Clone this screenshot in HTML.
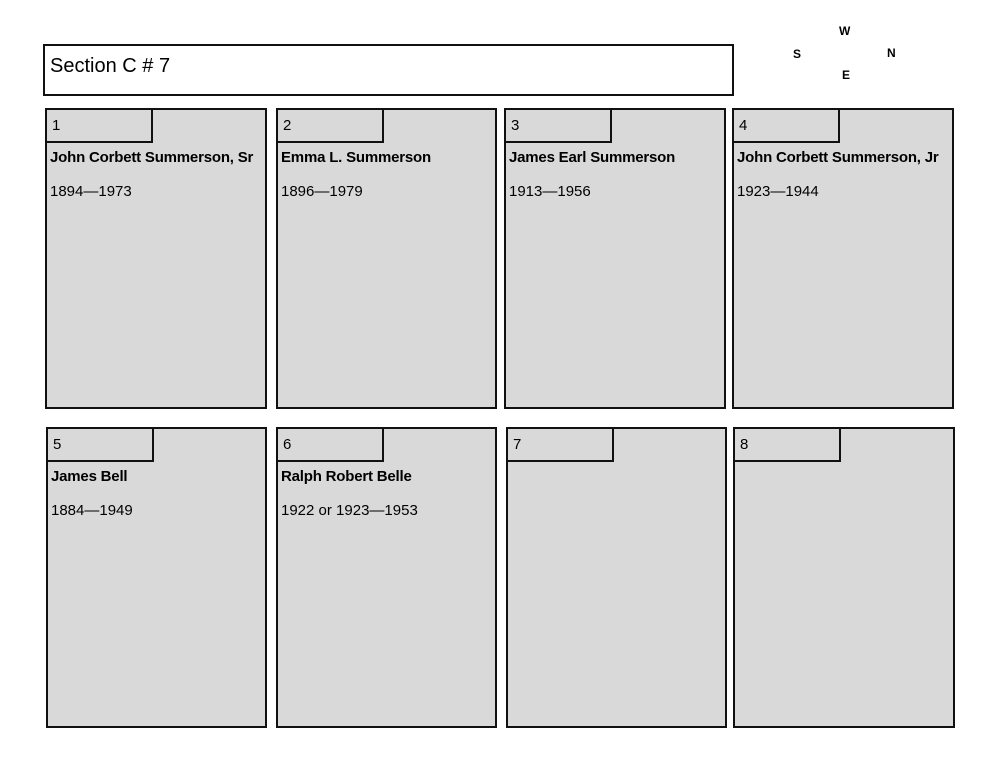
<!DOCTYPE html>
<html><head><style>
body{margin:0;width:1000px;height:773px;background:#fff;position:relative;font-family:"Liberation Sans",sans-serif;overflow:hidden}
.a{position:absolute;box-sizing:border-box}
.box{background:#d9d9d9;border:2.5px solid #111}
.tab{border:2.5px solid #111;border-top:none;border-left:none;width:106px;height:33px;left:0;top:0;font-size:15px;padding:7px 0 0 5px;box-sizing:border-box;position:absolute}
.nm{position:absolute;left:3px;top:39px;font-weight:bold;font-size:15px;white-space:nowrap;letter-spacing:-0.2px}
.dt{position:absolute;left:3px;top:73px;font-size:15px;white-space:nowrap}
.c{position:absolute;font-weight:bold;font-size:12px}
</style></head><body>
<div class="a" style="left:43px;top:44px;width:691px;height:52px;border:2.5px solid #111;font-size:20px;padding:9px 0 0 5px">Section C # 7</div>
<div class="c" style="left:839px;top:24px">W</div>
<div class="c" style="left:793px;top:47px">S</div>
<div class="c" style="left:887px;top:46px">N</div>
<div class="c" style="left:842px;top:68px">E</div>

<div class="a box" style="left:45px;top:108px;width:222px;height:301px"><div class="tab">1</div><div class="nm">John Corbett Summerson, Sr</div><div class="dt">1894—1973</div></div>
<div class="a box" style="left:276px;top:108px;width:221px;height:301px"><div class="tab">2</div><div class="nm">Emma L. Summerson</div><div class="dt">1896—1979</div></div>
<div class="a box" style="left:504px;top:108px;width:222px;height:301px"><div class="tab">3</div><div class="nm">James Earl Summerson</div><div class="dt">1913—1956</div></div>
<div class="a box" style="left:732px;top:108px;width:222px;height:301px"><div class="tab">4</div><div class="nm">John Corbett Summerson, Jr</div><div class="dt">1923—1944</div></div>

<div class="a box" style="left:46px;top:427px;width:221px;height:301px"><div class="tab">5</div><div class="nm">James Bell</div><div class="dt">1884—1949</div></div>
<div class="a box" style="left:276px;top:427px;width:221px;height:301px"><div class="tab">6</div><div class="nm">Ralph Robert Belle</div><div class="dt">1922 or 1923—1953</div></div>
<div class="a box" style="left:506px;top:427px;width:221px;height:301px"><div class="tab">7</div></div>
<div class="a box" style="left:733px;top:427px;width:222px;height:301px"><div class="tab">8</div></div>
</body></html>
